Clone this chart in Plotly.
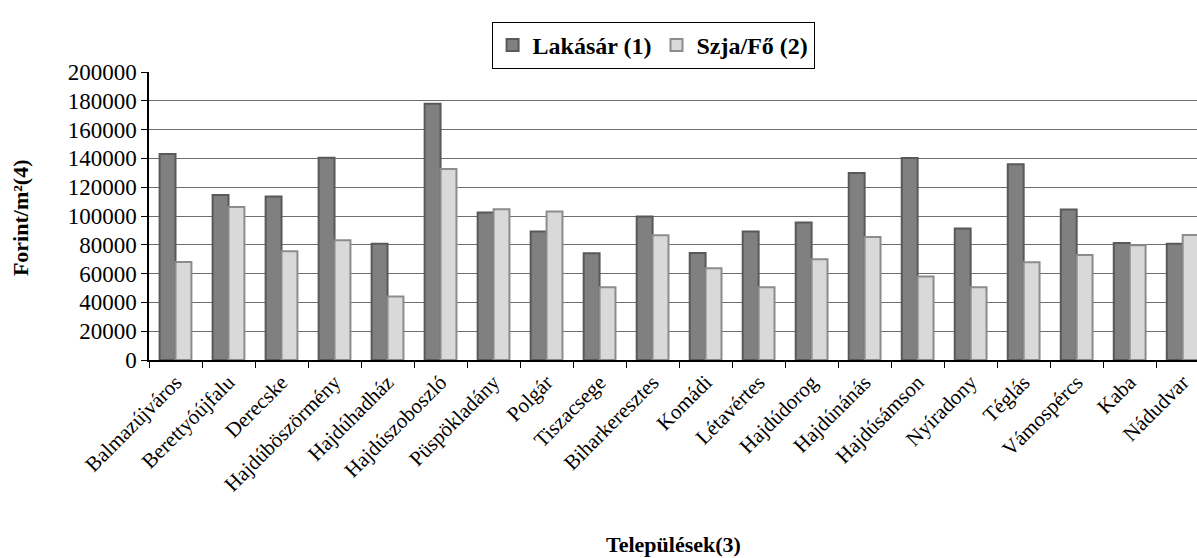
import plotly.graph_objects as go

categories = ["Balmazújváros", "Berettyóújfalu", "Derecske", "Hajdúböszörmény", "Hajdúhadház",
              "Hajdúszoboszló", "Püspökladány", "Polgár", "Tiszacsege", "Biharkeresztes",
              "Komádi", "Létavértes", "Hajdúdorog", "Hajdúnánás", "Hajdúsámson",
              "Nyíradony", "Téglás", "Vámospércs", "Kaba", "Nádudvar"]
lakasar = [143000, 114500, 113600, 140500, 80800, 177900, 102400, 89200, 74100, 99700,
           74300, 89200, 95500, 129800, 140300, 91300, 135900, 104500, 81300, 80800]
szja = [68000, 106300, 75500, 83100, 44100, 132600, 104700, 103100, 50600, 86600,
        63800, 50600, 69900, 85400, 58000, 50600, 67800, 72900, 79700, 86800]
y_ticks = [0, 20000, 40000, 60000, 80000, 100000, 120000, 140000, 160000, 180000, 200000]

FONT = "Liberation Serif, Times New Roman, serif"

fig = go.Figure()
fig.add_trace(go.Bar(x=categories, y=lakasar, name="<b>Lakásár (1)</b>",
                     marker=dict(color="#808080", line=dict(color="#595959", width=2))))
fig.add_trace(go.Bar(x=categories, y=szja, name="<b>Szja/Fő (2)</b>",
                     marker=dict(color="#d9d9d9", line=dict(color="#8c8c8c", width=2))))

fig.update_layout(
    width=1197, height=558,
    margin=dict(l=149, r=0, t=72, b=198, autoexpand=False),
    paper_bgcolor="white", plot_bgcolor="white",
    font=dict(family=FONT, color="black"),
    barmode="group", bargap=0.4, bargroupgap=0,
    showlegend=True,
    legend=dict(orientation="h", x=0.481, xanchor="center", y=1.174, yanchor="top",
                bordercolor="black", borderwidth=1, font=dict(size=24, family=FONT),
                itemwidth=30, traceorder="normal"),
    annotations=[
        dict(text="<b>Települések(3)</b>", x=0.5, y=-0.642, xref="paper", yref="paper",
             showarrow=False, font=dict(size=22, family=FONT), xanchor="center", yanchor="middle"),
        dict(text="<b>Forint/m²(4)</b>", x=-0.123, y=0.493, xref="paper", yref="paper",
             showarrow=False, textangle=-90, font=dict(size=22, family=FONT),
             xanchor="center", yanchor="middle"),
    ],
)
fig.update_xaxes(range=[-0.5, 19.27], automargin=False, showline=True, linecolor="black", linewidth=1.5,
                 ticks="outside", tickson="boundaries", ticklen=6, tickcolor="black",
                 tickangle=-45, tickfont=dict(size=21, family=FONT), showgrid=False)
fig.update_yaxes(range=[0, 200000], automargin=False, tickvals=y_ticks, ticktext=[str(v) for v in y_ticks],
                 showline=True, linecolor="black", linewidth=1.5,
                 ticks="outside", ticklen=6, tickcolor="black",
                 tickfont=dict(size=23, family=FONT), showgrid=True,
                 gridcolor="#6e6e6e", gridwidth=1, zeroline=False)

fig.write_html("out.html", config={"displayModeBar": False},
               post_script="document.body.style.margin='0';document.body.style.overflow='hidden';")
